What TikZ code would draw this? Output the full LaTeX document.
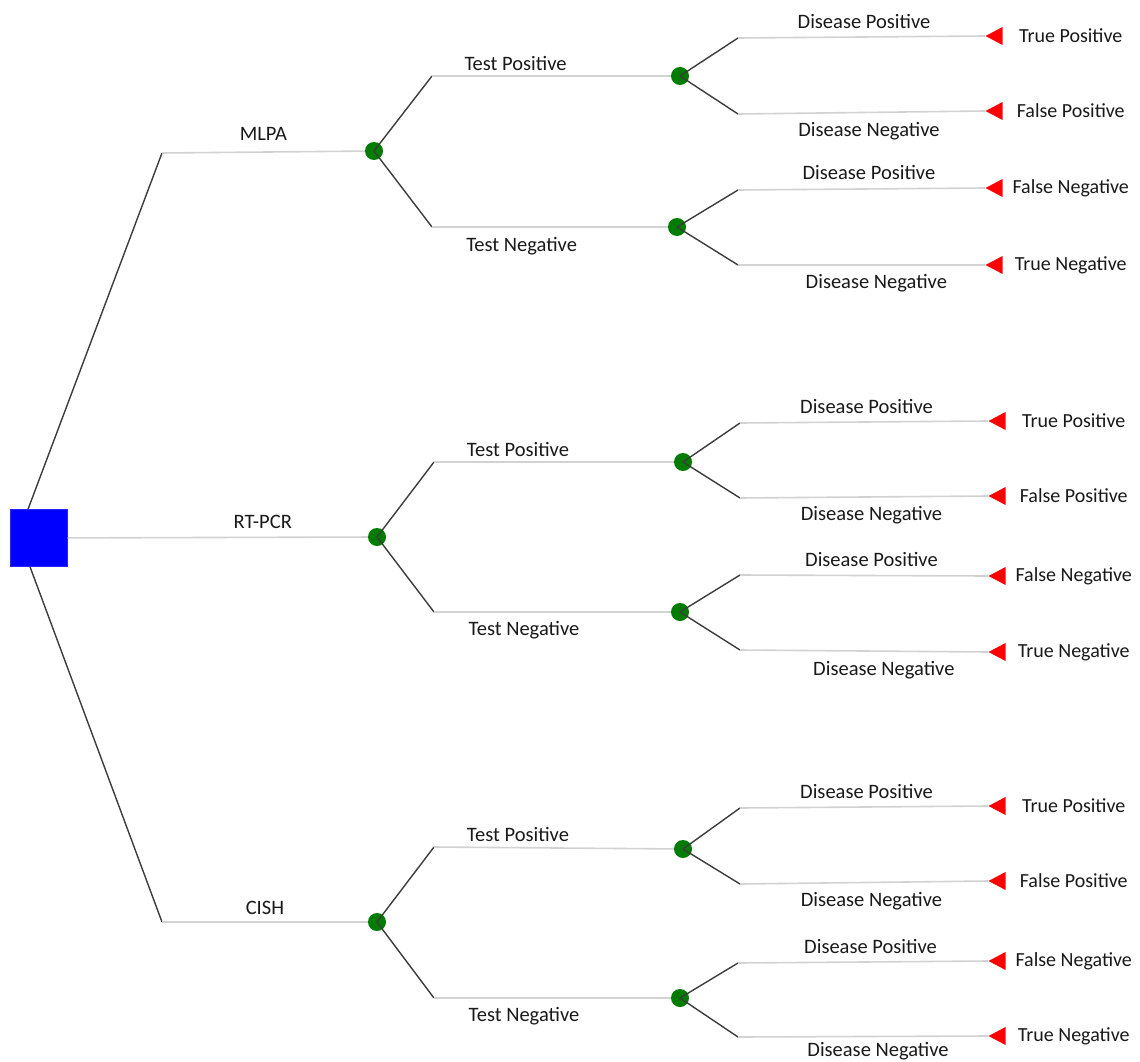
\documentclass[tikz,border=0pt]{standalone}
\usepackage{fontspec}
\setmainfont{Carlito}
\usetikzlibrary{shapes.geometric}
\definecolor{chancegreen}{RGB}{0,125,0}
\definecolor{slantgray}{RGB}{60,60,60}
\definecolor{flatgray}{RGB}{210,210,210}
\definecolor{textgray}{RGB}{25,25,25}

\begin{document}
\begin{tikzpicture}[x=1pt, y=-1pt,
  decision/.style={draw=blue!85, fill=blue, minimum size=57pt, inner sep=0pt},
  chance/.style={circle, fill=chancegreen, minimum size=18pt, inner sep=0pt},
  terminal/.style={isosceles triangle, isosceles triangle stretches, shape border rotate=180,
    fill=red, minimum width=18pt, minimum height=17pt, inner sep=0pt, anchor=apex},
  slant/.style={draw=slantgray, line width=1.4pt},
  flat/.style={draw=flatgray, line width=1.6pt},
  lbl/.style={font=\fontsize{20.5}{24}\selectfont, text=textgray, inner sep=2pt},
  up/.style={above=6pt},
  down/.style={below=7pt},
  outcome/.style={label={[lbl, font=\fontsize{20}{24}\selectfont, label distance=68pt, anchor=center]right:#1}}]
\useasboundingbox (0,0) rectangle (1140,1062);

\node[decision] (root) at (39,538) {};
\coordinate (mlpa) at (162,153);
\coordinate (cish) at (162,922);
\node[chance] (c1) at (374,151) {};
\node[chance] (c2) at (377,537) {};
\node[chance] (c3) at (377,922) {};
\draw[slant] ([xshift=-11pt]root.north) -- (mlpa);
\draw[slant] ([xshift=-9pt]root.south) -- (cish);
\draw[flat] (mlpa) -- node[lbl, above=9pt] {MLPA} (c1);
\draw[flat] (root) -- node[lbl, above=6pt, pos=0.65] {RT-PCR} (c2);
\draw[flat] (cish) -- node[lbl, above=5pt] {CISH} (c3);

% MLPA
\begin{scope}[shift={(374,151)}]
\coordinate (up1) at (58,-75);
\coordinate (dn1) at (58,76);
\node[chance] (tpos1) at (306,-75) {};
\node[chance] (tneg1) at (303,76) {};
\draw[slant] (c1.center) -- (up1);
\draw[slant] (c1.center) -- (dn1);
\draw[flat] (up1) -- node[lbl, above=3pt, pos=0.35] {Test Positive} (tpos1);
\draw[flat] (dn1) -- node[lbl, below=8pt, pos=0.38] {Test Negative} (tneg1);
\coordinate (pp1) at (364,-113);
\coordinate (pn1) at (364,-37);
\coordinate (np1) at (364,39);
\coordinate (nn1) at (364,114);
\node[terminal, outcome=True Positive] (tp1) at (611,-115) {};
\node[terminal, outcome=False Positive] (fp1) at (611,-40) {};
\node[terminal, outcome=False Negative] (fn1) at (611,37) {};
\node[terminal, outcome=True Negative] (tn1) at (611,114) {};
\draw[slant] (tpos1.center) -- (pp1);
\draw[slant] (tpos1.center) -- (pn1);
\draw[slant] (tneg1.center) -- (np1);
\draw[slant] (tneg1.center) -- (nn1);
\draw[flat] (pp1) -- node[lbl, up, pos=0.51] {Disease Positive} (tp1.apex);
\draw[flat] (pn1) -- node[lbl, down, pos=0.53] {Disease Negative} (fp1.apex);
\draw[flat] (np1) -- node[lbl, up, pos=0.53] {Disease Positive} (fn1.apex);
\draw[flat] (nn1) -- node[lbl, down, pos=0.56] {Disease Negative} (tn1.apex);
\end{scope}

% RT-PCR
\begin{scope}[shift={(377,537)}]
\coordinate (up2) at (57,-75);
\coordinate (dn2) at (57,75);
\node[chance] (tpos2) at (306,-75) {};
\node[chance] (tneg2) at (303,75) {};
\draw[slant] (c2.center) -- (up2);
\draw[slant] (c2.center) -- (dn2);
\draw[flat] (up2) -- node[lbl, above=3pt, pos=0.35] {Test Positive} (tpos2);
\draw[flat] (dn2) -- node[lbl, down, pos=0.38] {Test Negative} (tneg2);
\coordinate (pp2) at (363,-114);
\coordinate (pn2) at (363,-39);
\coordinate (np2) at (363,38);
\coordinate (nn2) at (363,113);
\node[terminal, outcome=True Positive] (tp2) at (611,-116) {};
\node[terminal, outcome=False Positive] (fp2) at (611,-41) {};
\node[terminal, outcome=False Negative] (fn2) at (611,39) {};
\node[terminal, outcome=True Negative] (tn2) at (611,115) {};
\draw[slant] (tpos2.center) -- (pp2);
\draw[slant] (tpos2.center) -- (pn2);
\draw[slant] (tneg2.center) -- (np2);
\draw[slant] (tneg2.center) -- (nn2);
\draw[flat] (pp2) -- node[lbl, up, pos=0.51] {Disease Positive} (tp2.apex);
\draw[flat] (pn2) -- node[lbl, down, pos=0.53] {Disease Negative} (fp2.apex);
\draw[flat] (np2) -- node[lbl, up, pos=0.53] {Disease Positive} (fn2.apex);
\draw[flat] (nn2) -- node[lbl, down, pos=0.58] {Disease Negative} (tn2.apex);
\end{scope}

% CISH
\begin{scope}[shift={(377,922)}]
\coordinate (up3) at (57,-75);
\coordinate (dn3) at (57,76);
\node[chance] (tpos3) at (306,-73) {};
\node[chance] (tneg3) at (303,76) {};
\draw[slant] (c3.center) -- (up3);
\draw[slant] (c3.center) -- (dn3);
\draw[flat] (up3) -- node[lbl, above=3pt, pos=0.35] {Test Positive} (tpos3);
\draw[flat] (dn3) -- node[lbl, down, pos=0.38] {Test Negative} (tneg3);
\coordinate (pp3) at (363,-114);
\coordinate (pn3) at (363,-38);
\coordinate (np3) at (361,41);
\coordinate (nn3) at (361,115);
\node[terminal, outcome=True Positive] (tp3) at (611,-116) {};
\node[terminal, outcome=False Positive] (fp3) at (611,-41) {};
\node[terminal, outcome=False Negative] (fn3) at (611,39) {};
\node[terminal, outcome=True Negative] (tn3) at (611,114) {};
\draw[slant] (tpos3.center) -- (pp3);
\draw[slant] (tpos3.center) -- (pn3);
\draw[slant] (tneg3.center) -- (np3);
\draw[slant] (tneg3.center) -- (nn3);
\draw[flat] (pp3) -- node[lbl, up, pos=0.51] {Disease Positive} (tp3.apex);
\draw[flat] (pn3) -- node[lbl, down, pos=0.53] {Disease Negative} (fp3.apex);
\draw[flat] (np3) -- node[lbl, up, pos=0.53] {Disease Positive} (fn3.apex);
\draw[flat] (nn3) -- node[lbl, below=3pt, pos=0.56] {Disease Negative} (tn3.apex);
\end{scope}
\end{tikzpicture}
\end{document}
